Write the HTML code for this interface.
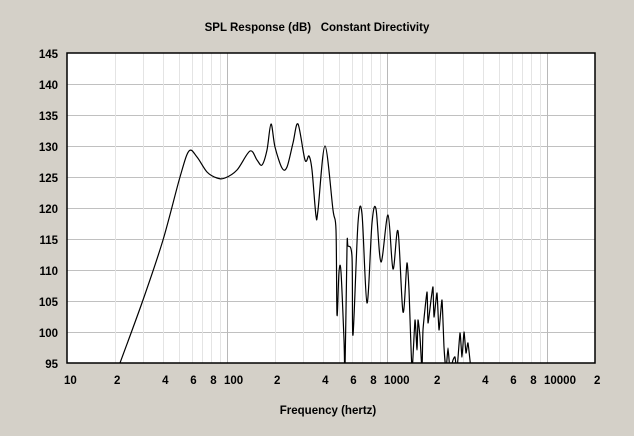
<!DOCTYPE html>
<html><head><style>
body{margin:0;background:#d4d0c8;}
svg{display:block;font-family:"Liberation Sans",sans-serif;font-weight:bold;}
</style></head><body>
<svg id="s" width="634" height="436" viewBox="0 0 634 436">
<defs><clipPath id="c"><rect x="67" y="53" width="528" height="310"/></clipPath></defs>
<rect width="634" height="436" fill="#d4d0c8"/>
<text x="317" y="31" font-size="11.5" text-anchor="middle" xml:space="preserve" style="white-space:pre">SPL Response (dB)   Constant Directivity</text>
<rect x="67" y="53" width="528" height="310" fill="#fff"/>
<g id="grid"></g>
<path id="curve" fill="none" stroke="#000" stroke-width="1.2" clip-path="url(#c)"/>
<rect x="67" y="53" width="528" height="310" fill="none" stroke="#000" stroke-width="1.5"/>
<g id="lab" font-size="11.5"></g>
<text x="328" y="414" font-size="11.5" text-anchor="middle">Frequency (hertz)</text>
</svg>
<script>
var g=document.getElementById('grid'),l=document.getElementById('lab'),ns='http://www.w3.org/2000/svg';
function ln(x1,y1,x2,y2,c){var e=document.createElementNS(ns,'line');e.setAttribute('x1',x1);e.setAttribute('y1',y1);e.setAttribute('x2',x2);e.setAttribute('y2',y2);e.setAttribute('stroke',c);g.appendChild(e);}
function tx(x,y,s,a){var e=document.createElementNS(ns,'text');e.setAttribute('x',x);e.setAttribute('y',y);e.setAttribute('text-anchor',a);e.textContent=s;l.appendChild(e);}
for(var i=0;i<=10;i++){var y=53+31*i;if(i>0&&i<10)ln(67,y+.5,595,y+.5,'#c0c0c0');tx(58,y+5,String(145-5*i),'end');}
var labs={2:'2',4:'4',6:'6',8:'8'};
for(var dd=0;dd<4;dd++){for(var m=1;m<=9;m++){var x=67+160*dd+160*Math.log10(m);if(dd==3&&m>2)break;var xx=Math.round(x)+.5;if(x>67&&x<595)ln(xx,53,xx,363,m==1?'#b8b8b8':'#e4e4e4');
if(m==1)tx(x-3,384,String(Math.pow(10,dd+1)),'start');else if(labs[m])tx(x+2,384,labs[m],'middle');}}
var P=[[120,363],[143,300],[163,240],[180,177],[189,151],[197,157],[207,172],[217,178],[225,178],[237,170],[250,151],[257,160],[262,165],[267,150],[271,124],[275,147],[282,168],[287,167],[293,143],[298,124],[305,160],[309,156],[312,170],[316,216],[318,210],[325,146],[333,210],[336,230],[337,315],[339,272],[341,272],[344,340],[345,370],[347,248],[348,246],[352,257],[353,335],[358,223],[362,214],[367,303],[372,223],[376,209],[381,262],[388,215],[393,269],[398,231],[403,312],[407,263],[409,290],[412,370],[415,320],[417,350],[418,320],[420,337],[422,370],[423,330],[427,292],[428,323],[431,300],[433,287],[434,317],[437,293],[439,330],[442,300],[444,347],[446,370],[448,348],[450,370],[453,360],[455,357],[457,370],[460,333],[462,357],[464,332],[466,353],[468,343],[471,370]];
var d='M'+P[0][0]+','+P[0][1];
for(var i=0;i<P.length-1;i++){var p0=P[Math.max(0,i-1)],p1=P[i],p2=P[i+1],p3=P[Math.min(P.length-1,i+2)];var t=p1[0]>405?0.08:0.16;
d+=' C'+(p1[0]+(p2[0]-p0[0])*t)+','+(p1[1]+(p2[1]-p0[1])*t)+' '+(p2[0]-(p3[0]-p1[0])*t)+','+(p2[1]-(p3[1]-p1[1])*t)+' '+p2[0]+','+p2[1];}
document.getElementById('curve').setAttribute('d',d);
</script>
</body></html>
